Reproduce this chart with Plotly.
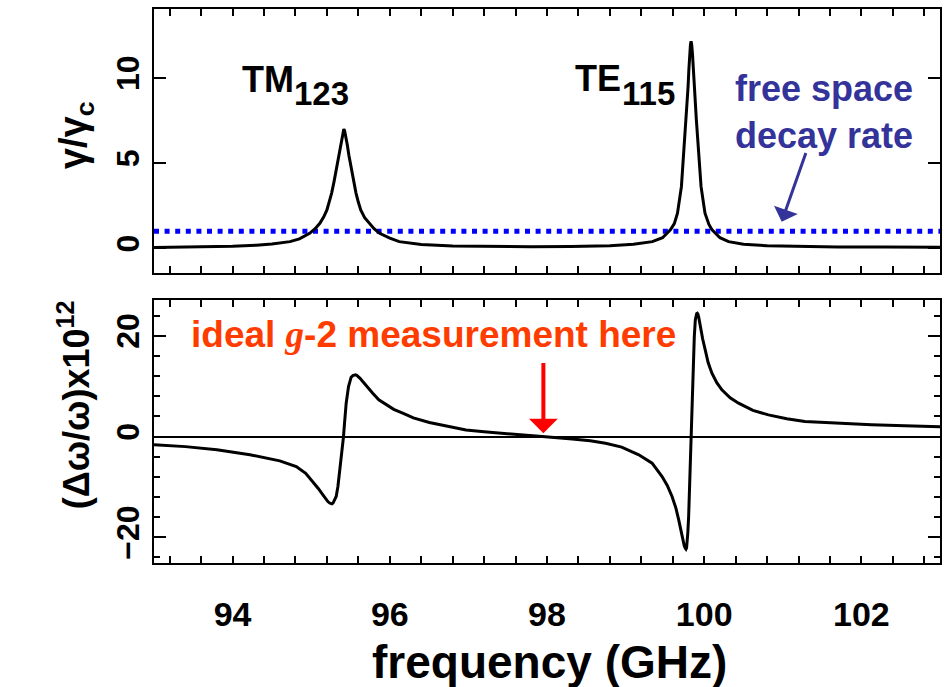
import plotly.graph_objects as go

# ---- data ----
top_freq = [93.0, 93.5, 94.0, 94.3, 94.5, 94.73, 94.85, 94.98, 95.05, 95.11, 95.16, 95.20, 95.23, 95.26,
            95.29, 95.31, 95.33, 95.35, 95.37, 95.39, 95.405, 95.415, 95.425, 95.44, 95.46, 95.48, 95.50,
            95.52, 95.54, 95.57, 95.60, 95.63, 95.68, 95.74, 95.80, 95.87, 96.0, 96.12, 96.4, 96.8,
            97.3, 97.8, 98.3, 98.8, 99.1, 99.34, 99.47, 99.57, 99.62, 99.66, 99.71, 99.74, 99.77,
            99.795, 99.805, 99.815, 99.825, 99.833, 99.841, 99.851, 99.861, 99.871, 99.90, 99.93,
            99.96, 100.01, 100.06, 100.10, 100.2, 100.31, 100.5, 100.8, 101.2, 101.7, 102.3, 103.0]
top_gamma = [0.05, 0.07, 0.12, 0.18, 0.25, 0.39, 0.55, 0.88, 1.15, 1.47, 1.85, 2.25, 2.7, 3.24,
             3.9, 4.4, 4.95, 5.45, 6.05, 6.6, 6.9, 7.0, 6.9, 6.6, 6.05, 5.45, 4.95,
             4.4, 3.9, 3.24, 2.7, 2.25, 1.8, 1.47, 1.15, 0.88, 0.6, 0.39, 0.22, 0.13,
             0.1, 0.09, 0.1, 0.15, 0.24, 0.39, 0.62, 1.08, 1.45, 2.06, 3.62, 5.59, 7.55,
             9.5, 10.5, 11.4, 11.95, 12.15, 11.95, 11.4, 10.5, 9.5, 7.55, 5.59,
             3.62, 2.06, 1.4, 1.08, 0.62, 0.39, 0.24, 0.15, 0.1, 0.08, 0.07, 0.06]

free_space_x = [93.0, 103.0]
free_space_rate = [1.0, 1.0]

bot_freq = [93.0, 93.4, 93.8, 94.22, 94.6, 94.81, 94.93, 95.022, 95.09, 95.149, 95.19, 95.212, 95.235,
            95.25, 95.263, 95.278, 95.30, 95.318, 95.34, 95.36, 95.378, 95.394, 95.411, 95.424, 95.445,
            95.475, 95.508, 95.53, 95.545, 95.563, 95.58, 95.60, 95.625, 95.656, 95.72, 95.783, 95.86,
            95.953, 96.05, 96.164, 96.3, 96.503, 96.75, 96.97, 97.2, 97.39, 97.65, 97.94, 98.32, 98.55,
            98.745, 98.95, 99.168, 99.337, 99.464, 99.53, 99.591, 99.64, 99.675, 99.70, 99.726, 99.745,
            99.758, 99.768, 99.776, 99.784, 99.792, 99.802, 99.815, 99.832, 99.844, 99.857, 99.874,
            99.887, 99.895, 99.904, 99.912, 99.92, 99.93, 99.95, 99.98, 100.013, 100.05, 100.098,
            100.16, 100.225, 100.33, 100.437, 100.62, 100.817, 101.05, 101.28, 101.7, 102.13, 102.55,
            103.0]
bot_dw = [-1.65, -2.0, -2.64, -3.6, -4.82, -5.95, -7.3, -8.93, -10.3, -11.57, -12.5, -12.9, -13.2,
          -13.32, -13.35, -13.2, -12.6, -11.9, -9.9, -7.27, -5.0, -2.64, 0.0, 2.65, 6.61,
          9.92, 11.78, 12.1, 12.22, 12.24, 12.15, 11.9, 11.5, 10.91, 9.7, 8.6, 7.3,
          6.29, 5.4, 4.63, 3.7, 2.78, 2.0, 1.3, 0.95, 0.67, 0.35, 0.0, -0.5, -0.85,
          -1.32, -2.1, -3.63, -5.29, -7.94, -9.7, -11.9, -14.2, -16.5, -18.5, -20.5, -21.6,
          -22.15, -22.35, -22.1, -21.0, -19.0, -15.87, -9.25, 0.0, 7.28, 13.9, 19.84,
          23.15, 23.95, 24.4, 24.48, 24.3, 23.7, 21.83, 19.4, 17.2, 14.7, 12.58,
          10.7, 9.27, 7.7, 6.62, 5.2, 4.3, 3.55, 2.98, 2.6, 2.32, 2.12,
          1.97]

x_tickvals = [94, 96, 98, 100, 102]
top_tickvals = [0, 5, 10]
bot_tickvals = [-20, 0, 20]

FONT = "Liberation Sans"
BLUE_TXT = "#333399"
RED_TXT = "#FF3C00"

fig = go.Figure()
fig.add_trace(go.Scatter(x=free_space_x, y=free_space_rate, mode="lines",
                         line=dict(color="#0000FF", width=5, dash="5px,5.6px"),
                         xaxis="x", yaxis="y", hoverinfo="skip"))
fig.add_trace(go.Scatter(x=top_freq, y=top_gamma, mode="lines",
                         line=dict(color="black", width=3),
                         xaxis="x", yaxis="y"))
fig.add_trace(go.Scatter(x=bot_freq, y=bot_dw, mode="lines",
                         line=dict(color="black", width=3),
                         xaxis="x2", yaxis="y2"))

ytickfont = dict(family=FONT, size=32, color="black", weight="bold")
xtickfont = dict(family="Liberation Sans Narrow, " + FONT, size=34, color="black", weight="bold")
common_x = dict(range=[93, 103], showline=True, linecolor="black", linewidth=2, mirror="ticks",
                ticks="inside", ticklen=7, tickwidth=1.5, tickcolor="black",
                tickvals=x_tickvals, showgrid=False, zeroline=False,
                minor=dict(dtick=0.4, tick0=93.2, ticks="inside", ticklen=7, tickwidth=1.5,
                           tickcolor="black", showgrid=False))

fig.update_layout(
    width=944, height=687,
    margin=dict(l=154, r=2, t=9, b=124),
    paper_bgcolor="white", plot_bgcolor="white",
    showlegend=False,
    xaxis=dict(common_x, domain=[0, 1], anchor="y", matches="x2", showticklabels=False),
    xaxis2=dict(common_x, domain=[0, 1], anchor="y2", showticklabels=True, tickfont=xtickfont,
                ticklabelstandoff=20),
    yaxis=dict(domain=[0.5235, 1], range=[-1.45, 14.05], tickvals=top_tickvals, showline=True,
               linecolor="black", linewidth=2, mirror="ticks", ticks="inside", ticklen=12,
               tickwidth=1.5, tickcolor="black", showgrid=False, zeroline=False,
               tickangle=-90, tickfont=ytickfont, ticklabelstandoff=0),
    yaxis2=dict(domain=[0, 0.4747], range=[-25.1, 27.1], tickvals=bot_tickvals, showline=True,
                linecolor="black", linewidth=2, mirror="ticks", ticks="inside", ticklen=12,
                tickwidth=1.5, tickcolor="black", showgrid=False,
                zeroline=True, zerolinecolor="black", zerolinewidth=1.5,
                minor=dict(dtick=4, ticks="inside", ticklen=6, tickwidth=1.5, tickcolor="black",
                           showgrid=False),
                tickangle=-90, tickfont=ytickfont, ticklabelstandoff=0),
)

ann = []
bold = lambda s, c="black", fam=FONT: dict(family=fam, size=s, color=c, weight="bold")
ann.append(dict(text="TM", x=94.447, y=9.9, xref="x", yref="y", showarrow=False,
                font=bold(36), xanchor="center", yanchor="middle"))
ann.append(dict(text="123", x=95.128, y=9.07, xref="x", yref="y", showarrow=False,
                font=bold(33), xanchor="center", yanchor="middle"))
ann.append(dict(text="TE", x=98.646, y=9.96, xref="x", yref="y", showarrow=False,
                font=bold(36), xanchor="center", yanchor="middle"))
ann.append(dict(text="115", x=99.294, y=9.08, xref="x", yref="y", showarrow=False,
                font=bold(33), xanchor="center", yanchor="middle"))
ann.append(dict(text="free space<br>decay rate", x=101.53, y=8.0, xref="x", yref="y",
                showarrow=False, font=bold(36, BLUE_TXT), xanchor="center", yanchor="middle",
                align="center"))
ann.append(dict(text="", x=100.986, y=1.56, ax=101.30, ay=5.68, xref="x", yref="y",
                axref="x", ayref="y", showarrow=True, arrowhead=1, arrowwidth=3,
                arrowsize=1.4, arrowcolor=BLUE_TXT))
ann.append(dict(text='ideal <span style="font-family:Liberation Serif;font-style:italic">g</span>-2 measurement here',
                x=96.553, y=20.18, xref="x2", yref="y2", showarrow=False,
                font=bold(37, RED_TXT), xanchor="center", yanchor="middle"))
ann.append(dict(text="", x=97.954, y=0.67, ax=97.954, ay=14.9, xref="x2", yref="y2",
                axref="x2", ayref="y2", showarrow=True, arrowhead=1, arrowwidth=4,
                arrowsize=1.2, arrowcolor="#FF0000"))
# axis titles
ann.append(dict(text="γ/γ<sub>c</sub>", x=(76 - 154) / 788, y=(563 - 135) / 554,
                xref="paper", yref="paper", showarrow=False, textangle=-90,
                font=bold(38), xanchor="center", yanchor="middle"))
ann.append(dict(text="(Δω/ω)x10<sup>12</sup>", x=(74 - 154) / 788, y=(563 - 405) / 554,
                xref="paper", yref="paper", showarrow=False, textangle=-90,
                font=bold(36), xanchor="center", yanchor="middle"))
ann.append(dict(text="frequency (GHz)", x=(551 - 154) / 788, y=(563 - 662) / 554,
                xref="paper", yref="paper", showarrow=False,
                font=bold(46, "black", "Liberation Sans Narrow, " + FONT), xanchor="center",
                yanchor="middle"))
fig.update_layout(annotations=ann)

fig.write_html("out.html")
